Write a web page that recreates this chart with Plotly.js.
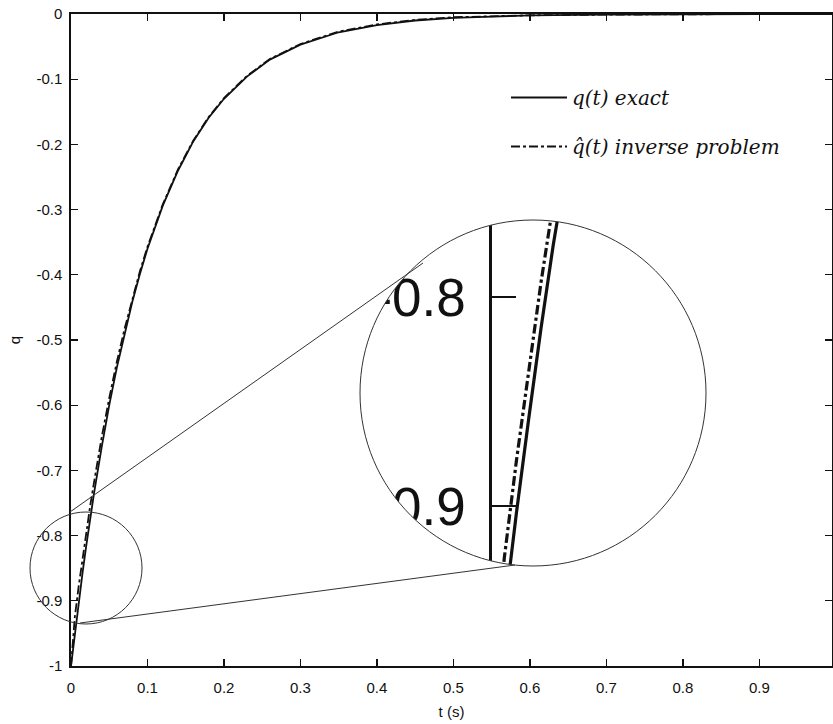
<!DOCTYPE html>
<html>
<head>
<meta charset="utf-8">
<script src="https://cdn.plot.ly/plotly-3.0.1.min.js"></script>
<style>html,body{margin:0;padding:0;background:#fff;}#chart{width:833px;height:724px;}</style>
</head>
<body>
<div id="chart"></div>
<script>
// ---- data ----
const t = [0, 0.005, 0.01, 0.015, 0.02, 0.025, 0.03, 0.04, 0.05, 0.06, 0.07, 0.08, 0.09, 0.1,
           0.12, 0.14, 0.16, 0.18, 0.2, 0.23, 0.26, 0.3, 0.35, 0.4, 0.45, 0.5, 0.55, 0.6, 0.7, 0.8, 0.9, 1.0];
const qExact = [-1, -0.950, -0.903, -0.858, -0.815, -0.775, -0.736, -0.665, -0.600, -0.542, -0.490, -0.442, -0.399, -0.360,
                -0.294, -0.240, -0.195, -0.159, -0.130, -0.096, -0.070, -0.047, -0.028, -0.017, -0.010, -0.006, -0.004, -0.002, -0.001, 0, 0, 0];
const qInverse = [-1, -0.925, -0.878, -0.835, -0.793, -0.755, -0.719, -0.650, -0.589, -0.533, -0.483, -0.437, -0.395, -0.357,
                  -0.292, -0.238, -0.194, -0.158, -0.129, -0.095, -0.069, -0.046, -0.027, -0.016, -0.009, -0.005, -0.003, -0.002, -0.001, 0, 0, 0];
const xTickVals = [0, 0.1, 0.2, 0.3, 0.4, 0.5, 0.6, 0.7, 0.8, 0.9, 1];
const xTickText = ['0', '0.1', '0.2', '0.3', '0.4', '0.5', '0.6', '0.7', '0.8', '0.9', '1'];
const yTickVals = [0, -0.1, -0.2, -0.3, -0.4, -0.5, -0.6, -0.7, -0.8, -0.9, -1];
const yTickText = ['0', '-0.1', '-0.2', '-0.3', '-0.4', '-0.5', '-0.6', '-0.7', '-0.8', '-0.9', '-1'];
const insetTickVals = [-0.8, -0.9];
const insetTickText = ['-0.8', '-0.9'];
const seriesNames = ['<i>q(t) exact</i>', '<i>q\u0302(t) inverse problem</i>'];

// ---- geometry (pixels -> paper) ----
const W = 833, H = 724, ML = 71, MR = 1, MT = 14, MB = 58;
const PW = W - ML - MR, PH = H - MT - MB;
const px = v => (v - ML) / PW;
const py = v => (H - MB - v) / PH;

function circlePath(cx, cy, r) {
  const X = px(cx), Y = py(cy), rx = r / PW, ry = r / PH, k = 0.5523;
  return `M${X + rx},${Y} C${X + rx},${Y + k * ry} ${X + k * rx},${Y + ry} ${X},${Y + ry} ` +
         `C${X - k * rx},${Y + ry} ${X - rx},${Y + k * ry} ${X - rx},${Y} ` +
         `C${X - rx},${Y - k * ry} ${X - k * rx},${Y - ry} ${X},${Y - ry} ` +
         `C${X + k * rx},${Y - ry} ${X + rx},${Y - k * ry} ${X + rx},${Y} Z`;
}
const bigC = {x: 533, y: 393, r: 173};
const smallC = {x: 86, y: 568, r: 56};
const maskPath = `M${px(340)},${py(200)} L${px(726)},${py(200)} L${px(726)},${py(586)} L${px(340)},${py(586)} Z ` +
                 circlePath(bigC.x, bigC.y, bigC.r);

const ink = '#111';
const traces = [
  {x: t, y: qExact, name: seriesNames[0], type: 'scatter', mode: 'lines', legendgroup: 'a',
   line: {color: ink, width: 1.8}, xaxis: 'x', yaxis: 'y'},
  {x: t, y: qInverse, name: seriesNames[1], type: 'scatter', mode: 'lines', legendgroup: 'b',
   line: {color: ink, width: 1.8, dash: 'dashdot'}, xaxis: 'x', yaxis: 'y'},
  {x: t, y: qExact, type: 'scatter', mode: 'lines', showlegend: false,
   line: {color: ink, width: 3.2}, xaxis: 'x2', yaxis: 'y2'},
  {x: t, y: qInverse, type: 'scatter', mode: 'lines', showlegend: false,
   line: {color: ink, width: 3.2, dash: 'dashdot'}, xaxis: 'x2', yaxis: 'y2'}
];

const tickFont = {family: 'Liberation Sans, Arial, sans-serif', size: 15, color: ink};
const layout = {
  width: W, height: H,
  margin: {l: ML, r: MR, t: MT, b: MB, pad: 0},
  paper_bgcolor: '#fff', plot_bgcolor: '#fff',
  showlegend: true,
  xaxis: {
    range: [0, 0.995], tickvals: xTickVals, ticktext: xTickText,
    ticks: 'inside', ticklen: 7, tickwidth: 1.3, tickcolor: ink,
    showline: true, linewidth: 1.6, linecolor: ink, mirror: 'ticks',
    showgrid: false, zeroline: false, tickfont: tickFont, ticklabelstandoff: 7,
    title: {text: 't (s)', font: {family: 'Liberation Sans, Arial, sans-serif', size: 15, color: ink}, standoff: 12},
    domain: [0, 1], anchor: 'y'
  },
  yaxis: {
    range: [-1, 0], tickvals: yTickVals, ticktext: yTickText,
    ticks: 'inside', ticklen: 7, tickwidth: 1.3, tickcolor: ink,
    showline: true, linewidth: 1.6, linecolor: ink, mirror: 'ticks',
    showgrid: false, zeroline: false, tickfont: tickFont, ticklabelstandoff: 4,
    title: {text: 'q', font: {family: 'Liberation Sans, Arial, sans-serif', size: 15, color: ink}, standoff: 12},
    domain: [0, 1], anchor: 'x'
  },
  xaxis2: {
    domain: [px(492), px(706)], range: [0, (706 - 492) / 2451], anchor: 'y2',
    visible: false, showgrid: false, zeroline: false
  },
  yaxis2: {
    domain: [py(566), py(220)], range: [-0.9287, -0.7632], anchor: 'x2',
    showline: true, linewidth: 2.6, linecolor: ink, showgrid: false, zeroline: false,
    tickvals: insetTickVals, ticktext: insetTickText,
    ticks: 'inside', ticklen: 24, tickwidth: 2.4, tickcolor: ink,
    tickfont: {family: 'Liberation Sans, Arial, sans-serif', size: 53, color: ink},
    ticklabelstandoff: 13
  },
  legend: {
    x: px(506), y: py(78), xanchor: 'left', yanchor: 'top',
    bgcolor: 'rgba(0,0,0,0)', borderwidth: 0,
    font: {family: 'DejaVu Serif, serif', size: 20, color: ink},
    itemwidth: 56,
    traceorder: 'grouped', tracegroupgap: 20
  },
  shapes: [
    {type: 'path', xref: 'paper', yref: 'paper', path: maskPath, fillrule: 'evenodd',
     fillcolor: '#fff', line: {width: 0}, layer: 'above'},
    {type: 'path', xref: 'paper', yref: 'paper', path: circlePath(bigC.x, bigC.y, bigC.r),
     line: {color: '#333', width: 1}, layer: 'above'},
    {type: 'path', xref: 'paper', yref: 'paper', path: circlePath(smallC.x, smallC.y, smallC.r),
     line: {color: '#333', width: 1}, layer: 'above'},
    {type: 'line', xref: 'paper', yref: 'paper', x0: px(70), y0: py(512), x1: px(423), y1: py(263),
     line: {color: '#333', width: 1}, layer: 'above'},
    {type: 'line', xref: 'paper', yref: 'paper', x0: px(80), y0: py(623), x1: px(515), y1: py(565),
     line: {color: '#333', width: 1}, layer: 'above'}
  ]
};

Plotly.newPlot('chart', traces, layout, {displayModeBar: false, staticPlot: true});
</script>
</body>
</html>
